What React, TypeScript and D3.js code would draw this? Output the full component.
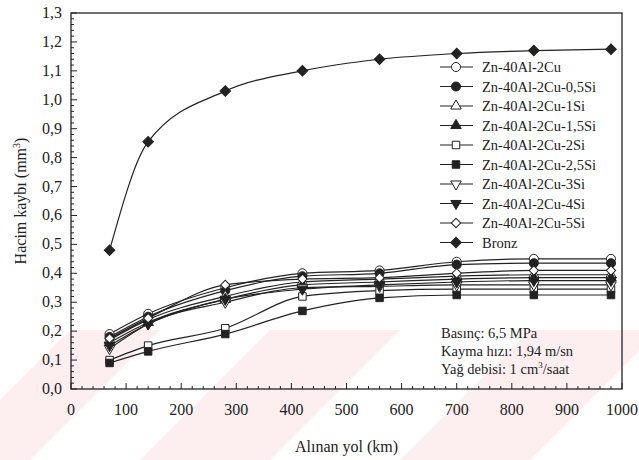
import React from "react";
import * as d3 from "d3";

const distances = [70, 140, 280, 420, 560, 700, 840, 980];
const seriesNames = [
  "Zn-40Al-2Cu",
  "Zn-40Al-2Cu-0,5Si",
  "Zn-40Al-2Cu-1Si",
  "Zn-40Al-2Cu-1,5Si",
  "Zn-40Al-2Cu-2Si",
  "Zn-40Al-2Cu-2,5Si",
  "Zn-40Al-2Cu-3Si",
  "Zn-40Al-2Cu-4Si",
  "Zn-40Al-2Cu-5Si",
  "Bronz",
];
const v_Cu = [0.19, 0.26, 0.35, 0.40, 0.41, 0.44, 0.45, 0.45];
const v_05Si = [0.18, 0.25, 0.34, 0.39, 0.40, 0.43, 0.435, 0.435];
const v_1Si = [0.17, 0.24, 0.32, 0.37, 0.38, 0.39, 0.395, 0.395];
const v_15Si = [0.16, 0.23, 0.31, 0.36, 0.37, 0.38, 0.385, 0.385];
const v_2Si = [0.10, 0.15, 0.21, 0.32, 0.34, 0.345, 0.345, 0.345];
const v_25Si = [0.09, 0.13, 0.19, 0.27, 0.315, 0.325, 0.325, 0.325];
const v_3Si = [0.14, 0.225, 0.30, 0.35, 0.355, 0.36, 0.36, 0.36];
const v_4Si = [0.15, 0.225, 0.31, 0.345, 0.36, 0.37, 0.375, 0.375];
const v_5Si = [0.175, 0.245, 0.36, 0.38, 0.385, 0.40, 0.41, 0.41];
const v_Bronz = [0.48, 0.855, 1.03, 1.10, 1.14, 1.16, 1.17, 1.175];
const seriesValues = [v_Cu, v_05Si, v_1Si, v_15Si, v_2Si, v_25Si, v_3Si, v_4Si, v_5Si, v_Bronz];

const xTickLabels = ["0", "100", "200", "300", "400", "500", "600", "700", "800", "900", "1000"];
const yTickLabels = ["0,0", "0,1", "0,2", "0,3", "0,4", "0,5", "0,6", "0,7", "0,8", "0,9", "1,0", "1,1", "1,2", "1,3"];
const notes = ["Basınç: 6,5 MPa", "Kayma hızı: 1,94 m/sn"];

type MarkerDef = { shape: d3.SymbolType; filled: boolean; rot: number; size: number };
const markers: MarkerDef[] = [
  { shape: d3.symbolCircle, filled: false, rot: 0, size: 64 },
  { shape: d3.symbolCircle, filled: true, rot: 0, size: 64 },
  { shape: d3.symbolTriangle, filled: false, rot: 0, size: 48 },
  { shape: d3.symbolTriangle, filled: true, rot: 0, size: 48 },
  { shape: d3.symbolSquare, filled: false, rot: 0, size: 56 },
  { shape: d3.symbolSquare, filled: true, rot: 0, size: 56 },
  { shape: d3.symbolTriangle, filled: false, rot: 180, size: 48 },
  { shape: d3.symbolTriangle, filled: true, rot: 180, size: 48 },
  { shape: d3.symbolSquare, filled: false, rot: 45, size: 44 },
  { shape: d3.symbolSquare, filled: true, rot: 45, size: 56 },
];

const W = 639;
const H = 460;
const L = 71, R = 622, T = 13, B = 389;
const INK = "#222";
const FONT = "'Liberation Serif', 'Times New Roman', 'DejaVu Serif', serif";

export default function App() {
  const x = d3.scaleLinear().domain([0, 1000]).range([L, R]);
  const y = d3.scaleLinear().domain([0, 1.3]).range([B, T]);
  const line = d3
    .line<number>()
    .x((_, i) => x(distances[i]))
    .y((d) => y(d))
    .curve(d3.curveMonotoneX);

  const xMinor = d3.range(0, 1001, 20);
  const yMinor = d3.range(0, 131, 2).map((v) => v / 100);

  const sym = (m: MarkerDef) => d3.symbol().type(m.shape).size(m.size)() as string;

  const legendX = 440;
  const legendY0 = 67;
  const legendStep = 19.5;

  const stripes = [
    [-60, 90],
    [140, 130],
    [400, 130],
  ];
  const tStyle = { fontFamily: FONT };

  return (
    <svg width={W} height={H} style={{ position: "absolute", left: 0, top: 0, background: "#fff", fontFamily: FONT }}>
      <defs>
        <clipPath id="wm">
          <rect x={0} y={330} width={W} height={H - 330} />
        </clipPath>
      </defs>
      <g clipPath="url(#wm)" fill="#fdeef0">
        {stripes.map(([sx, w], i) => (
          <polygon key={i} points={`${sx},${H} ${sx + w},${H} ${sx + w + 140},${H - 140} ${sx + 140},${H - 140}`} />
        ))}
      </g>

      {/* frame */}
      <rect x={L} y={T} width={R - L} height={B - T} fill="none" stroke={INK} strokeWidth={1.3} />

      {/* x ticks */}
      {xMinor.map((v) => (
        <line key={"xt" + v} x1={x(v)} x2={x(v)} y1={B} y2={B - (v % 100 === 0 ? 6 : 3)} stroke={INK} strokeWidth={1} />
      ))}
      {xTickLabels.map((t, i) => (
        <text key={"xl" + t} style={tStyle} x={x(i * 100)} y={B + 26} textAnchor="middle" fontSize={16} fill={INK}>
          {t}
        </text>
      ))}
      {/* y ticks */}
      {yMinor.map((v, i) => (
        <line key={"yt" + i} x1={L} x2={L + (i % 5 === 0 ? 6 : 3)} y1={y(v)} y2={y(v)} stroke={INK} strokeWidth={1} />
      ))}
      {yTickLabels.map((t, i) => (
        <text key={"yl" + t} style={tStyle} x={L - 9} y={y(i / 10) + 5} textAnchor="end" fontSize={16} fill={INK}>
          {t}
        </text>
      ))}

      {/* axis titles */}
      <text style={tStyle} x={(L + R) / 2} y={452} textAnchor="middle" fontSize={16} fill={INK}>
        Alınan yol (km)
      </text>
      <text style={tStyle} transform={`translate(26,${(T + B) / 2}) rotate(-90)`} textAnchor="middle" fontSize={16} fill={INK}>
        Hacim kaybı (mm<tspan dy={-6} fontSize={10}>3</tspan><tspan dy={6}>)</tspan>
      </text>

      {/* series lines */}
      {seriesValues.map((vals, si) => (
        <path key={"l" + si} d={line(vals) as string} fill="none" stroke={INK} strokeWidth={1.2} />
      ))}
      {/* markers */}
      {seriesValues.map((vals, si) => (
        <g key={"m" + si}>
          {vals.map((v, i) => (
            <path
              key={i}
              d={sym(markers[si])}
              transform={`translate(${x(distances[i])},${y(v)}) rotate(${markers[si].rot})`}
              fill={markers[si].filled ? INK : "#fff"}
              stroke={INK}
              strokeWidth={1}
            />
          ))}
        </g>
      ))}

      {/* legend */}
      {seriesNames.map((name, i) => {
        const ly = legendY0 + i * legendStep;
        const m = markers[i];
        return (
          <g key={"lg" + i}>
            <line x1={legendX} x2={legendX + 33} y1={ly} y2={ly} stroke={INK} strokeWidth={1.2} />
            <path
              d={sym(m)}
              transform={`translate(${legendX + 16},${ly}) rotate(${m.rot})`}
              fill={m.filled ? INK : "#fff"}
              stroke={INK}
              strokeWidth={1}
            />
            <text style={tStyle} x={legendX + 42} y={ly + 5} fontSize={14.5} fill={INK}>
              {name}
            </text>
          </g>
        );
      })}

      {/* notes */}
      {notes.map((n, i) => (
        <text key={"n" + i} style={tStyle} x={441} y={338 + i * 18} fontSize={14.5} fill={INK}>
          {n}
        </text>
      ))}
      <text style={tStyle} x={441} y={374} fontSize={14.5} fill={INK}>
        Yağ debisi: 1 cm<tspan dy={-6} fontSize={9}>3</tspan>
        <tspan dy={6}>/saat</tspan>
      </text>
    </svg>
  );
}
